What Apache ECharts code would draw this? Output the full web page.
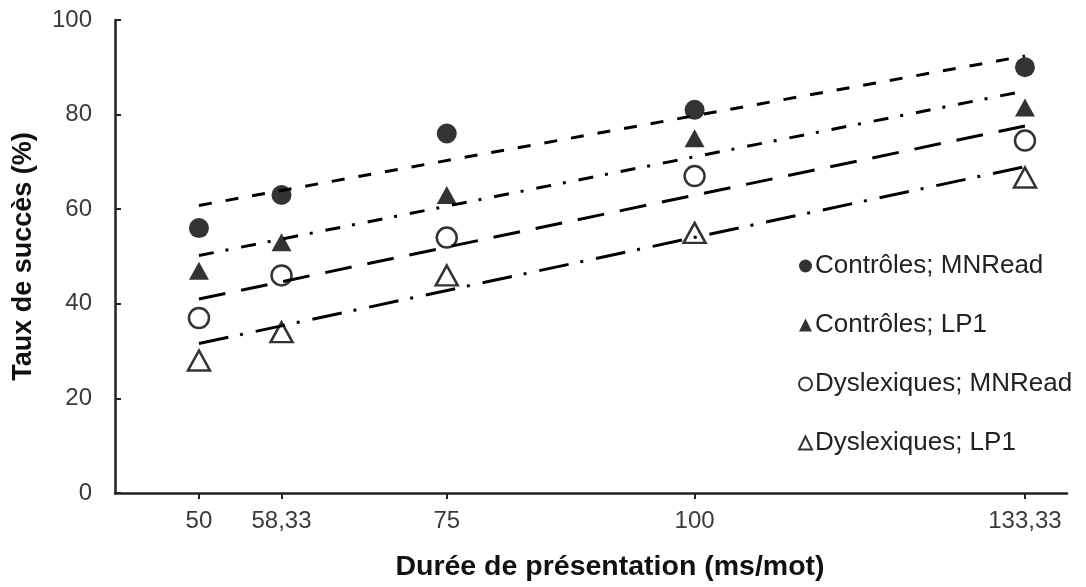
<!DOCTYPE html>
<html><head><meta charset="utf-8">
<script src="https://cdn.jsdelivr.net/npm/echarts@6/dist/echarts.min.js"></script>
<style>html,body{margin:0;padding:0;background:#fff}#c{width:1086px;height:587px}</style>
</head><body><div id="c"></div>
<script>
const durations = [50, 58.33, 75, 100, 133.33];
const xTicks = [50, 58.33, 75, 100, 133.33];
const seriesNames = ['Contrôles; MNRead', 'Contrôles; LP1', 'Dyslexiques; MNRead', 'Dyslexiques; LP1'];
const ctrlMNRead = [56, 63, 76, 81, 90];
const ctrlLP1 = [47, 53, 63, 75, 81.5];
const dysMNRead = [37, 46, 54, 67, 74.5];
const dysLP1 = [28, 34, 46, 55, 66.7];
const trendX = [50, 133.33];
const trendCtrlMNRead = [60.8, 92.4];
const trendCtrlLP1 = [50.2, 85.0];
const trendDysMNRead = [41.0, 77.6];
const trendDysLP1 = [31.6, 69.0];

const FONT = '"Liberation Sans", Arial, sans-serif';
const pairs = (xs, ys) => xs.map((x, i) => [x, ys[i]]);

const markerStyles = [
  { symbol: 'circle', size: 20, itemStyle: { color: '#000' } },
  { symbol: 'triangle', size: [20, 18], itemStyle: { color: '#000' } },
  { symbol: 'circle', size: 20, itemStyle: { color: '#fff', borderColor: '#000', borderWidth: 2.5 } },
  { symbol: 'triangle', size: [22, 20], itemStyle: { color: '#fff', borderColor: '#000', borderWidth: 2.5 } }
];
const pointData = [ctrlMNRead, ctrlLP1, dysMNRead, dysLP1];
const trendData = [trendCtrlMNRead, trendCtrlLP1, trendDysMNRead, trendDysLP1];
const dashes = [[13, 14], [15, 12, 3, 13], [27, 16], [30, 12, 3, 13]];

const series = [];
pointData.forEach((ys, i) => {
  series.push({
    name: seriesNames[i], type: 'scatter', data: pairs(durations, ys),
    symbol: markerStyles[i].symbol, symbolSize: markerStyles[i].size,
    itemStyle: markerStyles[i].itemStyle, z: 2
  });
});
trendData.forEach((ys, i) => {
  series.push({
    name: 'trend' + i, type: 'line', data: pairs(trendX, ys), symbol: 'none',
    lineStyle: { color: '#000', width: 3, type: dashes[i] }, z: 3, silent: true
  });
});

const chart = echarts.init(document.getElementById('c'), null, { renderer: 'canvas' });
chart.setOption({
  animation: false,
  backgroundColor: '#fff',
  grid: { left: 115, top: 20, right: 19, bottom: 92, containLabel: false },
  legend: {
    data: seriesNames.map((n, i) => ({ name: n, icon: markerStyles[i].symbol })),
    orient: 'vertical', left: 793, top: 248,
    itemWidth: 13, itemHeight: 13, itemGap: 33,
    textStyle: { fontFamily: FONT, fontSize: 26, color: '#222', padding: [0, 0, 0, -2] }
  },
  xAxis: {
    type: 'value', min: 41.53, max: 137.57,
    name: 'Durée de présentation (ms/mot)', nameLocation: 'middle', nameGap: 60,
    nameTextStyle: { fontFamily: FONT, fontSize: 28.5, fontWeight: 'bold', color: '#111', padding: [0, 0, 0, 38] },
    axisLine: { show: true, lineStyle: { color: '#222', width: 2.5 } },
    axisTick: { show: true, customValues: xTicks, length: 6, lineStyle: { color: '#222', width: 2 } },
    axisLabel: { customValues: xTicks, margin: 16, fontFamily: FONT, fontSize: 24, color: '#3a3a3a',
      formatter: v => String(v).replace('.', ',') },
    splitLine: { show: false }
  },
  yAxis: {
    type: 'value', min: 0, max: 100, interval: 20,
    name: 'Taux de succès (%)', nameLocation: 'middle', nameGap: 78, nameRotate: 90,
    nameTextStyle: { fontFamily: FONT, fontSize: 27, fontWeight: 'bold', color: '#111' },
    axisLine: { show: true, lineStyle: { color: '#222', width: 2.5 } },
    axisTick: { show: true, inside: true, length: 6, lineStyle: { color: '#222', width: 2 } },
    axisLabel: { margin: 23, fontFamily: FONT, fontSize: 24, color: '#3a3a3a' },
    splitLine: { show: false }
  },
  series: series
});
</script>
</body></html>
